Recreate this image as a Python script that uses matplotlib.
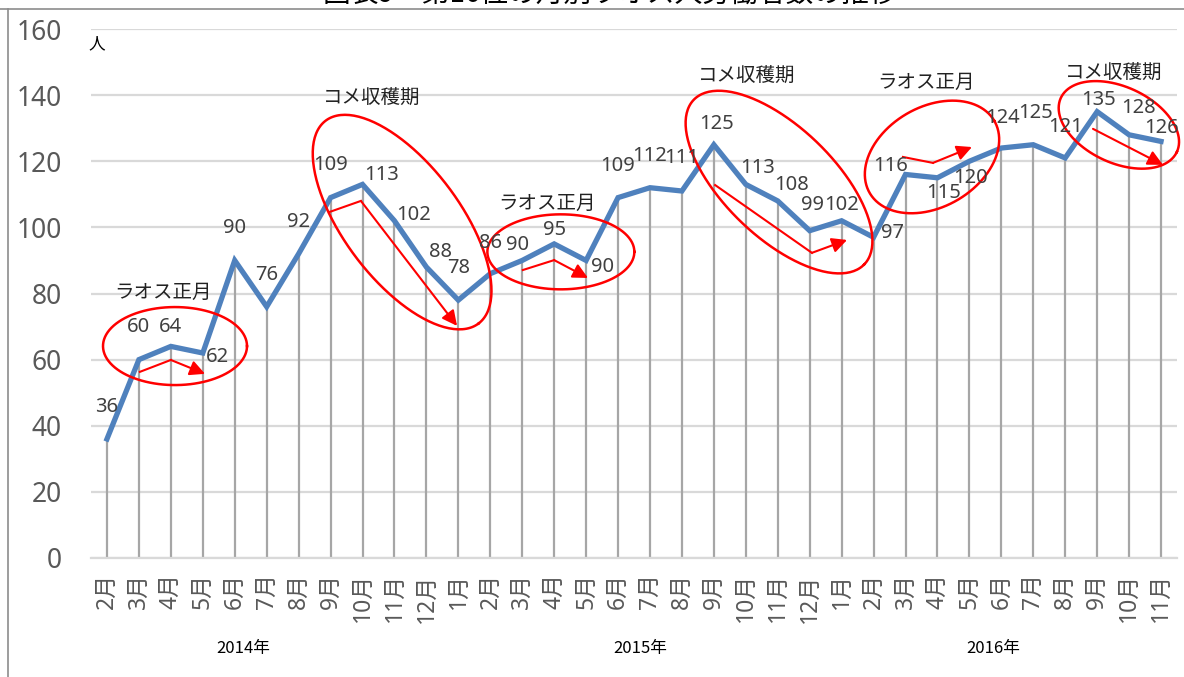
import numpy as np
import matplotlib
matplotlib.use('Agg')
import matplotlib.pyplot as plt
import matplotlib.transforms as mtransforms
from matplotlib.lines import Line2D

plt.rcParams['font.family'] = ['Noto Sans CJK JP', 'DejaVu Sans']

# data
months = [2, 3, 4, 5, 6, 7, 8, 9, 10, 11, 12,
          1, 2, 3, 4, 5, 6, 7, 8, 9, 10, 11, 12,
          1, 2, 3, 4, 5, 6, 7, 8, 9, 10, 11]
workers = [36, 60, 64, 62, 90, 76, 92, 109, 113, 102, 88,
           78, 86, 90, 95, 90, 109, 112, 111, 125, 113, 108, 99,
           102, 97, 116, 115, 120, 124, 125, 121, 135, 128, 126]
years = ['2014年', '2015年', '2016年']
year_pos = [4.26, 16.69, 27.74]
tick_labels = ['{}月'.format(m) for m in months]

# label offsets in pixels (dx, dy up)
lab_off = [(0, 32), (0, 33), (0, 19), (15, -4), (0, 32), (0, 32), (0, 32), (0, 33),
           (19, 9), (19, 6), (14, 15), (0, 32), (0, 31), (-5, 15), (0, 14), (16, -7),
           (0, 32), (0, 32), (0, 33), (3, 21), (12, 16), (14, 16), (3, 26), (0, 16),
           (19, 4), (-15, 8), (6, -15), (1, -17), (1, 30), (2, 32), (0, 31), (1, 12),
           (9, 27), (1, 13)]

# annotations: (text, x, y)
notes = [('ラオス正月', 1.75, 80.2), ('コメ収穫期', 8.30, 139.4), ('ラオス正月', 13.78, 107.4),
         ('コメ収穫期', 20.04, 146.1), ('ラオス正月', 25.64, 143.7), ('コメ収穫期', 31.53, 147.0)]
# ellipses: center x, center y, width px, height px, angle deg
ellipses = [(2.13, 64.1, 144, 78, 0), (9.24, 101.6, 254, 116, -53), (14.21, 92.6, 147, 75, 0),
            (21.04, 113.7, 237, 110, -44), (25.83, 121.3, 144, 100, 30), (31.68, 131.0, 128, 76, -25)]
arrows = [[(1.03, 56.3), (2.00, 59.9), (3.07, 55.7)],
          [(6.98, 104.7), (7.95, 108.0), (10.96, 70.2)],
          [(13.02, 87.1), (14.0, 90.1), (15.06, 84.7)],
          [(19.04, 112.8), (22.07, 92.3), (23.17, 96.2)],
          [(24.92, 121.3), (25.86, 119.5), (27.08, 124.3)],
          [(30.87, 129.8), (33.06, 118.9)]]

W, H = 1184, 677
fig = plt.figure(figsize=(W / 100, H / 100), dpi=100)
ax = fig.add_axes([91 / W, (H - 558) / H, (1177 - 91) / W, (558 - 29) / H])

x = np.arange(len(workers))
ax.set_xlim(-0.5, len(workers) - 0.5)
ax.set_ylim(0, 160)
XS = (1177 - 91) / len(workers)
YS = (558 - 29) / 160

ax.set_yticks(range(0, 161, 20))
ax.grid(axis='y', color='#d9d9d9', lw=1.6)
ax.set_axisbelow(True)
for s in ['top', 'right', 'left']:
    ax.spines[s].set_visible(False)
ax.spines['bottom'].set_color('#d9d9d9')
ax.spines['bottom'].set_linewidth(1.6)

ax.vlines(x, 0, workers, color='#a6a6a6', lw=1.6, zorder=2)
ax.plot(x, workers, color='#4f81bd', lw=3.8, zorder=3, solid_joinstyle='miter')

for i, v in enumerate(workers):
    dx, dy = lab_off[i]
    ax.annotate(str(v), (i, v), xytext=(dx * 0.72, dy * 0.72), textcoords='offset points',
                ha='center', va='center', fontsize=14.5, color='#404040',
                family=['Noto Sans', 'DejaVu Sans'], zorder=5)

ax.set_xticks(x)
ax.set_xticklabels(tick_labels, rotation=90, fontsize=16.5, color='#595959')
for t in ax.get_xticklabels():
    t.set_family(['Noto Sans', 'Noto Sans CJK JP'])
ax.tick_params(axis='x', length=0, pad=11)
ax.tick_params(axis='y', length=0, pad=21, labelsize=19, labelcolor='#595959')
for t in ax.get_yticklabels():
    t.set_family(['Noto Sans', 'DejaVu Sans'])

trans = mtransforms.blended_transform_factory(ax.transData, fig.transFigure)
for name, xp in zip(years, year_pos):
    ax.text(xp, (H - 648) / H, name, transform=trans, ha='center', va='center',
            fontsize=12, color='black')

ax.text(-0.31, 155.5, '人', ha='center', va='center', fontsize=12, color='black')

for t, tx, ty in notes:
    ax.text(tx, ty, t, ha='center', va='center', fontsize=14, color='#222222', zorder=6)

th = np.linspace(0, 2 * np.pi, 200)
for cx, cy, w, h, ang in ellipses:
    a = np.deg2rad(ang)
    ex = w / 2 * np.cos(th)
    ey = h / 2 * np.sin(th)
    rx = ex * np.cos(a) - ey * np.sin(a)
    ry = ex * np.sin(a) + ey * np.cos(a)
    ax.plot(cx + rx / XS, cy + ry / YS, color='red', lw=1.8, zorder=4, clip_on=False)

for pts in arrows:
    xs = [p[0] for p in pts]
    ys = [p[1] for p in pts]
    ax.plot(xs[:-1], ys[:-1], color='red', lw=1.5, zorder=4)
    ax.annotate('', xy=pts[-1], xytext=pts[-2],
                arrowprops=dict(arrowstyle='-|>,head_length=0.9,head_width=0.45',
                                color='red', lw=1.5, shrinkA=0, shrinkB=0), zorder=4)

# chart frame and title (cut by the top edge, as in the source image)
fig.add_artist(Line2D([8 / W, 8 / W], [0, (H - 9) / H], color='#8c8c8c', lw=1.2))
fig.add_artist(Line2D([0, 1], [(H - 9) / H, (H - 9) / H], color='#8c8c8c', lw=1.2))
fig.text(610 / W, (H + 6) / H, '図表9　第16位の月別ラオス人労働者数の推移', ha='center',
         va='center', fontsize=20, color='black')

fig.savefig('out.png', dpi=100)
